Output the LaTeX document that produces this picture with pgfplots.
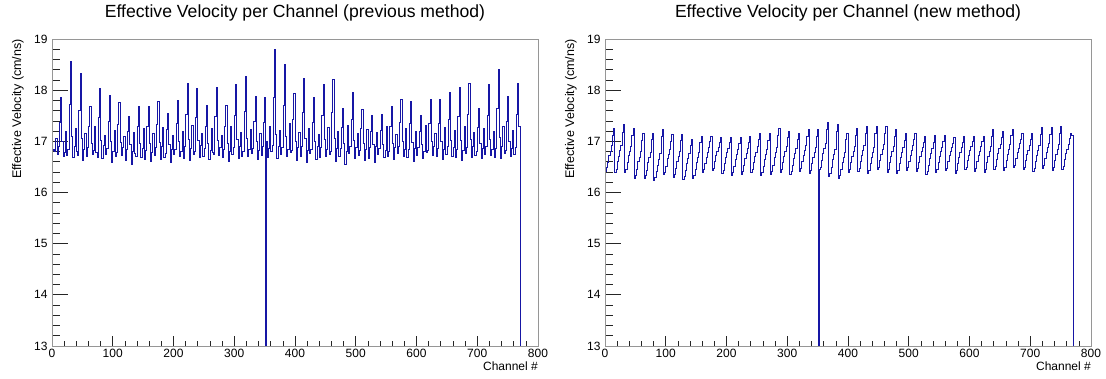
\documentclass[border=0pt]{standalone}
\usepackage{pgfplots}
\pgfplotsset{compat=1.18}
\usepackage{fontspec}
\setmainfont{Liberation Sans}
\definecolor{histblue}{RGB}{22,22,165}
\definecolor{framegray}{RGB}{150,150,150}

\pgfplotsset{
  rootframe/.style={
    scale only axis, width=486pt, height=307pt,
    xmin=0, xmax=800, ymin=13, ymax=19,
    axis line style={draw=framegray, line width=0.8pt},
    tick style={black!85, line width=0.7pt},
    tick align=inside,
    /pgf/number format/assume math mode=true,
    ticklabel style={font=\fontsize{12}{12}\selectfont},
  },
  yaxisA/.style={
    rootframe,
    ytick={13,14,...,19}, minor y tick num=4, ytick pos=left,
    xtick=\empty,
    major tick length=16pt, minor tick length=8pt,
    yticklabel style={xshift=-1pt},
    title style={font=\fontsize{17.6}{17.6}\selectfont, at={(0.5,1)}, anchor=base, yshift=15pt},
    ylabel={Effective Velocity (cm/ns)},
    ylabel style={font=\fontsize{12.5}{12.5}\selectfont, at={(rel axis cs:0,1)}, anchor=south east, inner sep=0pt, yshift=28pt},
  },
  xaxisB/.style={
    rootframe,
    xtick={0,100,...,800}, minor x tick num=4, xtick pos=left,
    ytick=\empty,
    major tick length=10pt, minor tick length=5pt,
    xlabel={Channel \#},
    xlabel style={font=\fontsize{12}{12}\selectfont, at={(rel axis cs:1,0)}, anchor=north east, inner sep=0pt, yshift=-16pt},
  },
  histline/.style={histblue, line width=0.7pt, const plot mark left, mark=none},
}

\begin{document}
\begin{tikzpicture}
\path[use as bounding box] (0pt,0pt) rectangle (1106pt,378pt);

% ---------------- left panel ----------------
\begin{axis}[yaxisA, at={(52pt,32pt)}, anchor=south west,
  title={Effective Velocity per Channel (previous method)}]
\addplot[histline] coordinates {
(0,16.82)(2,16.84)(4,16.80)(6,17.05)(8,16.75)(10,16.90)(12,17.38)(14,17.85)
(16,16.99)(18,16.70)(20,16.78)(22,17.20)(24,16.72)(26,16.85)(28,17.73)(30,18.56)
(32,17.10)(34,16.68)(36,16.90)(38,17.25)(40,16.80)(42,16.72)(44,17.61)(46,18.32)
(48,17.06)(50,16.62)(52,16.85)(54,17.15)(56,16.70)(58,16.88)(60,17.29)(62,17.68)
(64,16.97)(66,16.75)(68,16.82)(70,17.30)(72,16.78)(74,16.68)(76,17.47)(78,18.04)
(80,17.02)(82,16.66)(84,16.92)(86,17.12)(88,16.74)(90,16.86)(92,17.40)(94,17.89)
(96,17.00)(98,16.58)(100,16.80)(102,17.22)(104,16.70)(106,16.78)(108,17.33)(110,17.76)
(112,16.98)(114,16.72)(116,16.88)(118,17.10)(120,16.62)(122,16.85)(124,17.19)(126,17.48)
(128,16.94)(130,16.55)(132,16.80)(134,17.18)(136,16.76)(138,16.70)(140,17.29)(142,17.68)
(144,16.97)(146,16.68)(148,16.86)(150,17.25)(152,16.65)(154,16.82)(156,17.30)(158,17.69)
(160,16.97)(162,16.60)(164,16.78)(166,17.15)(168,16.72)(170,16.88)(172,17.34)(174,17.78)
(176,16.98)(178,16.64)(180,16.90)(182,17.28)(184,16.68)(186,16.76)(188,17.23)(190,17.55)
(192,16.95)(194,16.58)(196,16.84)(198,17.12)(200,16.74)(202,16.85)(204,17.36)(206,17.81)
(208,16.99)(210,16.70)(212,16.80)(214,17.20)(216,16.66)(218,16.90)(220,17.52)(222,18.14)
(224,17.04)(226,16.62)(228,16.86)(230,17.32)(232,16.75)(234,16.80)(236,17.47)(238,18.04)
(240,17.02)(242,16.68)(244,16.92)(246,17.16)(248,16.70)(250,16.86)(252,17.30)(254,17.70)
(256,16.97)(258,16.64)(260,16.82)(262,17.26)(264,16.78)(266,16.74)(268,17.48)(270,18.06)
(272,17.02)(274,16.72)(276,16.88)(278,17.12)(280,16.68)(282,16.85)(284,17.30)(286,17.70)
(288,16.97)(290,16.60)(292,16.80)(294,17.30)(296,16.74)(298,16.88)(300,17.51)(302,18.11)
(304,17.03)(306,16.66)(308,16.90)(310,17.18)(312,16.70)(314,16.80)(316,17.59)(318,18.27)
(320,17.06)(322,16.70)(324,16.84)(326,17.24)(328,16.76)(330,16.86)(332,17.39)(334,17.88)
(336,17.00)(338,16.64)(340,16.82)(342,17.15)(344,16.72)(346,16.90)(348,17.38)(350,17.85)
(352,0)
(353,16.99)(354,16.68)(356,16.86)(358,17.30)(360,16.80)(362,16.92)(364,17.85)(366,18.79)
(368,17.13)(370,16.66)(372,16.90)(374,17.22)(376,16.74)(378,16.88)(380,17.70)(382,18.50)
(384,17.09)(386,16.70)(388,16.84)(390,17.35)(392,16.78)(394,16.82)(396,17.42)(398,17.93)
(400,17.00)(402,16.62)(404,16.88)(406,17.18)(408,16.70)(410,16.90)(412,17.57)(414,18.24)
(416,17.05)(418,16.58)(420,16.82)(422,17.26)(424,16.76)(426,16.84)(428,17.38)(430,17.85)
(432,16.99)(434,16.64)(436,16.90)(438,17.14)(440,16.68)(442,16.88)(444,17.51)(446,18.11)
(448,17.03)(450,16.70)(452,16.84)(454,17.28)(456,16.74)(458,16.80)(460,17.56)(462,18.22)
(464,17.05)(466,16.60)(468,16.86)(470,17.20)(472,16.70)(474,16.86)(476,17.28)(478,17.65)
(480,16.96)(482,16.55)(484,16.80)(486,17.32)(488,16.76)(490,16.90)(492,17.43)(494,17.95)
(496,17.01)(498,16.66)(500,16.88)(502,17.16)(504,16.72)(506,16.82)(508,17.26)(510,17.62)
(512,16.96)(514,16.62)(516,16.84)(518,17.24)(520,16.66)(522,16.88)(524,17.20)(526,17.50)
(528,16.94)(530,16.58)(532,16.90)(534,17.18)(536,16.74)(538,16.86)(540,17.21)(542,17.52)
(544,16.94)(546,16.68)(548,16.82)(550,17.30)(552,16.70)(554,16.80)(556,17.29)(558,17.68)
(560,16.97)(562,16.64)(564,16.88)(566,17.14)(568,16.76)(570,16.90)(572,17.37)(574,17.83)
(576,16.99)(578,16.70)(580,16.84)(582,17.26)(584,16.68)(586,16.84)(588,17.35)(590,17.79)
(592,16.98)(594,16.60)(596,16.86)(598,17.20)(600,16.72)(602,16.88)(604,17.20)(606,17.50)
(608,16.94)(610,16.66)(612,16.80)(614,17.32)(616,16.78)(618,16.82)(620,17.36)(622,17.82)
(624,16.99)(626,16.72)(628,16.90)(630,17.16)(632,16.70)(634,16.86)(636,17.36)(638,17.82)
(640,16.99)(642,16.64)(644,16.84)(646,17.28)(648,16.74)(650,16.90)(652,17.43)(654,17.95)
(656,17.01)(658,16.70)(660,16.88)(662,17.22)(664,16.68)(666,16.84)(668,17.48)(670,18.06)
(672,17.02)(674,16.62)(676,16.82)(678,17.30)(680,16.76)(682,16.88)(684,17.52)(686,18.14)
(688,17.04)(690,16.68)(692,16.90)(694,17.18)(696,16.72)(698,16.80)(700,17.28)(702,17.65)
(704,16.96)(706,16.66)(708,16.86)(710,17.26)(712,16.74)(714,16.90)(716,17.51)(718,18.11)
(720,17.03)(722,16.72)(724,16.84)(726,17.20)(728,16.68)(730,16.86)(732,17.65)(734,18.40)
(736,17.08)(738,16.66)(740,16.90)(742,17.30)(744,16.76)(746,16.82)(748,17.39)(750,17.88)
(752,17.00)(754,16.70)(756,16.86)(758,17.22)(760,16.74)(762,16.88)(764,17.52)(766,18.13)
(768,17.30)(771,0)(800,0)
};
\end{axis}
\begin{axis}[xaxisB, at={(52pt,32pt)}, anchor=south west]
\end{axis}

% ---------------- right panel ----------------
\begin{axis}[yaxisA, at={(605pt,32pt)}, anchor=south west,
  title={Effective Velocity per Channel (new method)}]
\addplot[histline] coordinates {
(0,16.42)(2,16.50)(4,16.58)(6,16.72)(8,16.80)(10,16.92)(12,17.12)(14,17.26)
(16,16.40)(18,16.46)(20,16.60)(22,16.70)(24,16.82)(26,16.92)(28,17.18)(30,17.33)
(32,16.40)(34,16.45)(36,16.58)(38,16.72)(40,16.80)(42,16.90)(44,17.12)(46,17.25)
(48,16.28)(50,16.34)(52,16.46)(54,16.60)(56,16.68)(58,16.80)(60,17.02)(62,17.15)
(64,16.27)(66,16.33)(68,16.44)(70,16.58)(72,16.68)(74,16.78)(76,17.04)(78,17.16)
(80,16.23)(82,16.30)(84,16.42)(86,16.54)(88,16.64)(90,16.76)(92,17.10)(94,17.23)
(96,16.35)(98,16.40)(100,16.52)(102,16.66)(104,16.74)(106,16.84)(108,17.00)(110,17.13)
(112,16.30)(114,16.36)(116,16.48)(118,16.60)(120,16.70)(122,16.80)(124,17.02)(126,17.13)
(128,16.26)(130,16.32)(132,16.44)(134,16.56)(136,16.66)(138,16.76)(140,16.92)(142,17.03)
(144,16.27)(146,16.34)(148,16.46)(150,16.58)(152,16.68)(154,16.78)(156,16.98)(158,17.10)
(160,16.40)(162,16.45)(164,16.56)(166,16.68)(168,16.78)(170,16.88)(172,17.00)(174,17.10)
(176,16.44)(178,16.48)(180,16.60)(182,16.72)(184,16.80)(186,16.88)(188,16.98)(190,17.08)
(192,16.38)(194,16.44)(196,16.56)(198,16.68)(200,16.78)(202,16.86)(204,16.98)(206,17.08)
(208,16.34)(210,16.40)(212,16.52)(214,16.64)(216,16.74)(218,16.84)(220,16.96)(222,17.07)
(224,16.36)(226,16.42)(228,16.54)(230,16.66)(232,16.76)(234,16.86)(236,16.98)(238,17.10)
(240,16.40)(242,16.46)(244,16.58)(246,16.70)(248,16.78)(250,16.90)(252,17.04)(254,17.15)
(256,16.33)(258,16.40)(260,16.52)(262,16.64)(264,16.74)(266,16.84)(268,17.02)(270,17.15)
(272,16.36)(274,16.42)(276,16.54)(278,16.68)(280,16.78)(282,16.88)(284,17.12)(286,17.25)
(288,16.40)(290,16.46)(292,16.58)(294,16.70)(296,16.80)(298,16.90)(300,17.08)(302,17.20)
(304,16.35)(306,16.42)(308,16.54)(310,16.66)(312,16.76)(314,16.86)(316,17.04)(318,17.16)
(320,16.42)(322,16.48)(324,16.60)(326,16.72)(328,16.82)(330,16.92)(332,17.10)(334,17.23)
(336,16.38)(338,16.44)(340,16.56)(342,16.68)(344,16.78)(346,16.88)(348,17.10)(350,17.23)
(352,0)
(353,16.45)(354,16.50)(356,16.62)(358,16.76)(360,16.86)(362,16.96)(364,17.24)(366,17.38)
(368,16.32)(370,16.38)(372,16.50)(374,16.64)(376,16.74)(378,16.84)(380,17.20)(382,17.34)
(384,16.28)(386,16.34)(388,16.46)(390,16.58)(392,16.68)(394,16.78)(396,17.04)(398,17.16)
(400,16.40)(402,16.46)(404,16.58)(406,16.70)(408,16.80)(410,16.90)(412,17.12)(414,17.26)
(416,16.42)(418,16.48)(420,16.60)(422,16.72)(424,16.82)(426,16.92)(428,17.16)(430,17.29)
(432,16.38)(434,16.44)(436,16.56)(438,16.68)(440,16.78)(442,16.88)(444,17.16)(446,17.29)
(448,16.45)(450,16.50)(452,16.62)(454,16.74)(456,16.84)(458,16.94)(460,17.16)(462,17.29)
(464,16.40)(466,16.46)(468,16.58)(470,16.70)(472,16.80)(474,16.90)(476,17.10)(478,17.24)
(480,16.38)(482,16.44)(484,16.56)(486,16.68)(488,16.78)(490,16.88)(492,17.02)(494,17.15)
(496,16.44)(498,16.50)(500,16.60)(502,16.72)(504,16.82)(506,16.92)(508,17.04)(510,17.16)
(512,16.42)(514,16.48)(516,16.58)(518,16.70)(520,16.80)(522,16.88)(524,16.98)(526,17.09)
(528,16.35)(530,16.42)(532,16.54)(534,16.66)(536,16.76)(538,16.86)(540,16.98)(542,17.11)
(544,16.40)(546,16.46)(548,16.58)(550,16.70)(552,16.80)(554,16.88)(556,17.00)(558,17.11)
(560,16.44)(562,16.48)(564,16.60)(566,16.72)(568,16.80)(570,16.88)(572,16.96)(574,17.07)
(576,16.38)(578,16.44)(580,16.56)(582,16.68)(584,16.78)(586,16.88)(588,16.98)(590,17.09)
(592,16.45)(594,16.50)(596,16.62)(598,16.72)(600,16.82)(602,16.90)(604,17.00)(606,17.10)
(608,16.42)(610,16.48)(612,16.60)(614,16.72)(616,16.80)(618,16.90)(620,17.00)(622,17.10)
(624,16.40)(626,16.46)(628,16.58)(630,16.70)(632,16.80)(634,16.90)(636,17.10)(638,17.23)
(640,16.46)(642,16.52)(644,16.64)(646,16.76)(648,16.86)(650,16.94)(652,17.08)(654,17.20)
(656,16.44)(658,16.50)(660,16.62)(662,16.74)(664,16.84)(666,16.94)(668,17.12)(670,17.24)
(672,16.50)(674,16.54)(676,16.66)(678,16.78)(680,16.86)(682,16.96)(684,17.04)(686,17.16)
(688,16.45)(690,16.50)(692,16.62)(694,16.74)(696,16.82)(698,16.92)(700,17.04)(702,17.15)
(704,16.42)(706,16.48)(708,16.60)(710,16.72)(712,16.82)(714,16.92)(716,17.14)(718,17.27)
(720,16.48)(722,16.54)(724,16.66)(726,16.78)(728,16.88)(730,16.96)(732,17.14)(734,17.27)
(736,16.44)(738,16.50)(740,16.62)(742,16.74)(744,16.84)(746,16.94)(748,17.16)(750,17.29)
(752,16.46)(754,16.52)(756,16.64)(758,16.76)(760,16.84)(762,16.94)(764,17.06)(766,17.16)
(768,17.12)(771,0)(800,0)
};
\end{axis}
\begin{axis}[xaxisB, at={(605pt,32pt)}, anchor=south west]
\end{axis}
\end{tikzpicture}
\end{document}
